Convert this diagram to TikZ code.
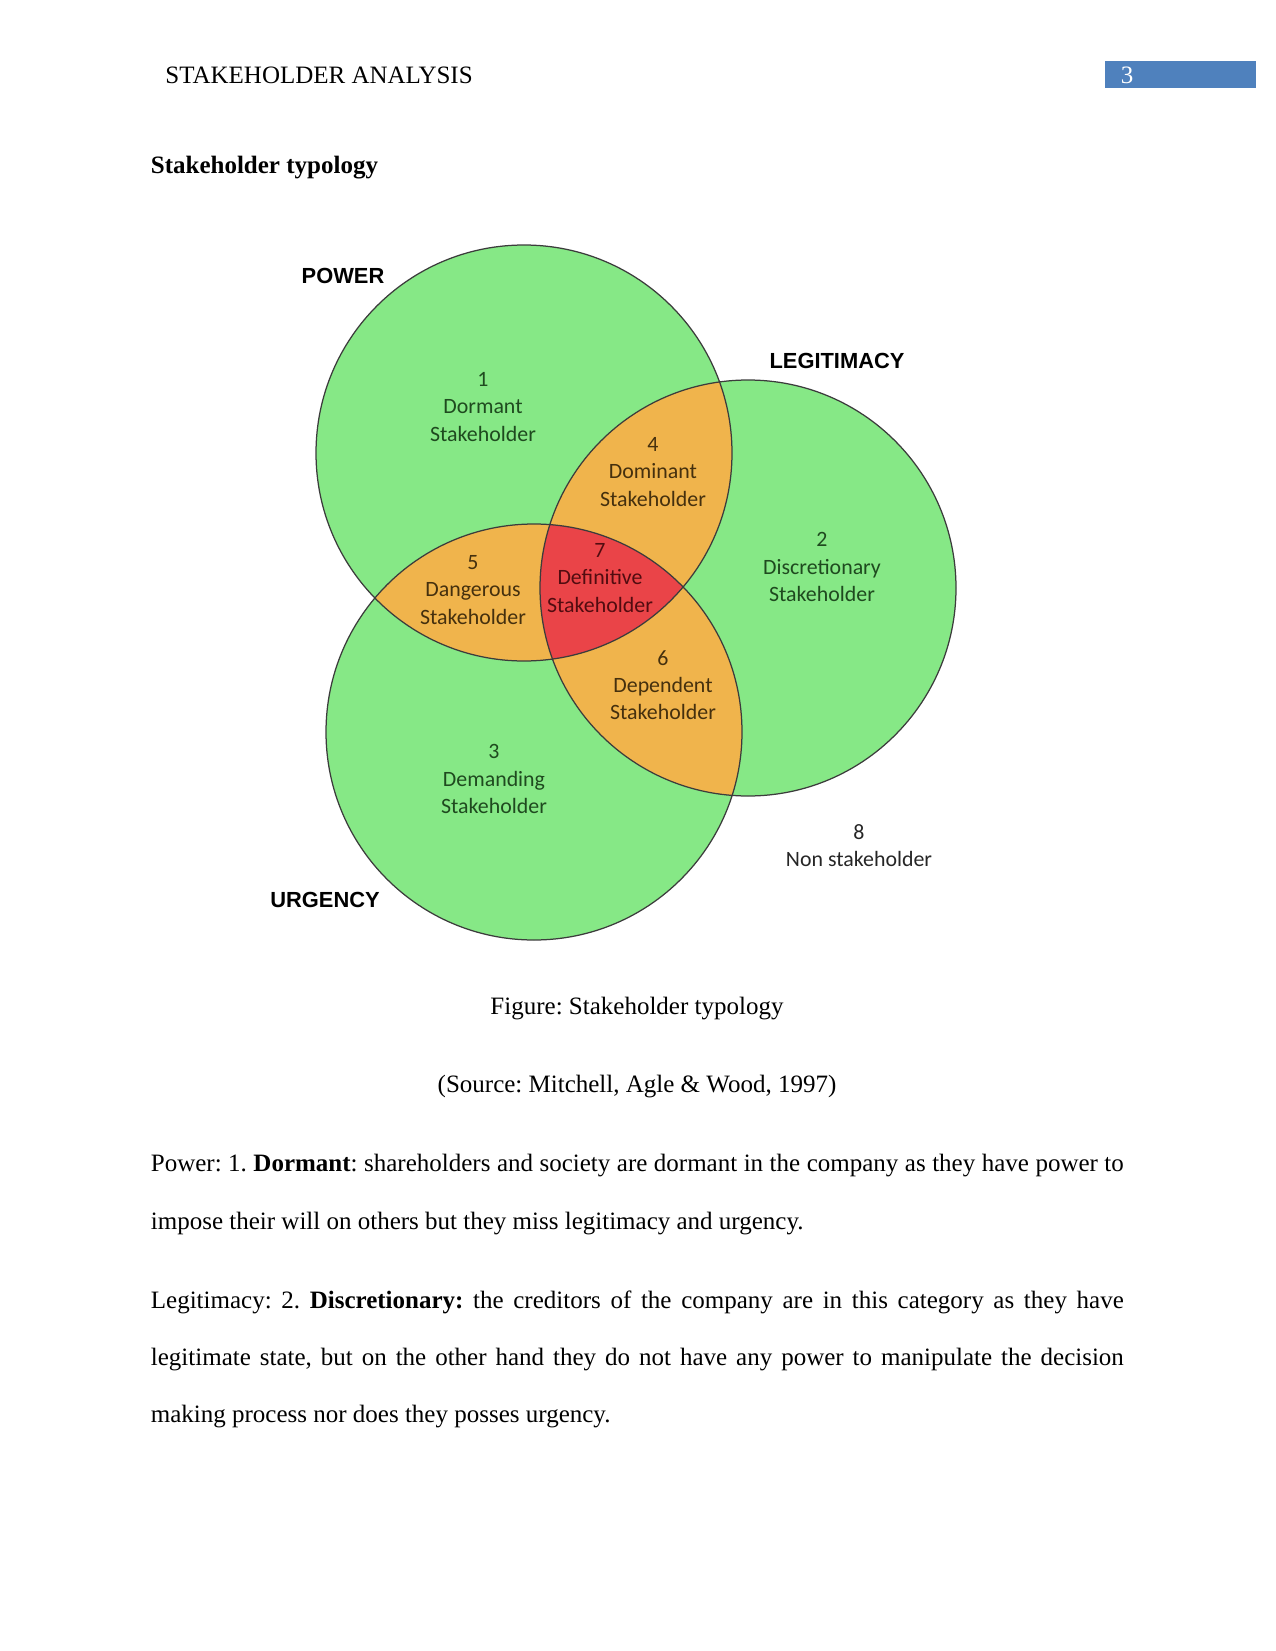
\documentclass[tikz,border=0pt]{standalone}
\usepackage{fontspec}
\setmainfont{Liberation Serif}
\newfontfamily\calfont{Carlito}
\newfontfamily\arialfont{Liberation Sans}
\frenchspacing
\definecolor{vgreen}{HTML}{86E886}
\definecolor{vorange}{HTML}{F0B44C}
\definecolor{vred}{HTML}{EA4448}
\definecolor{hblue}{HTML}{4F81BD}
\definecolor{tgreen}{HTML}{1F4A1F}
\definecolor{torange}{HTML}{45300E}
\definecolor{tred}{HTML}{520C10}
\definecolor{vline}{HTML}{3C3C3C}
\begin{document}
\begin{tikzpicture}[x=0.48pt,y=-0.48pt,
  lbl/.style={font=\calfont\fontsize{10.5}{13}\selectfont, align=center, inner sep=0pt},
  setlbl/.style={font=\arialfont\bfseries\fontsize{10.5}{12}\selectfont, inner sep=0pt},
  body/.style={font=\fontsize{12}{14}\selectfont, inner sep=0pt, anchor=west},
  ring/.style={draw=vline, line width=0.6pt}]
\useasboundingbox (0,0) rectangle (1275,1651);
% header
\node[body] (hdr) at (165,75) {STAKEHOLDER ANALYSIS};
\node[fill=hblue, anchor=north west, minimum width=72.5pt, minimum height=13pt, inner sep=0pt] (pgbox) at (1105,61) {};
\node[body, anchor=center, text=white] (pgnum) at (1127,75) {3};
\node[body] (title) at (150.5,168) {\textbf{Stakeholder typology}};
% venn
\coordinate (P) at (524,453);
\coordinate (L) at (748,588);
\coordinate (U) at (534,732);
\fill[vgreen] (P) circle[radius=208];
\fill[vgreen] (L) circle[radius=208];
\fill[vgreen] (U) circle[radius=208];
\begin{scope}
  \clip (P) circle[radius=208];
  \fill[vorange] (L) circle[radius=208];
  \fill[vorange] (U) circle[radius=208];
\end{scope}
\begin{scope}
  \clip (L) circle[radius=208];
  \fill[vorange] (U) circle[radius=208];
\end{scope}
\begin{scope}
  \clip (P) circle[radius=208];
  \clip (L) circle[radius=208];
  \fill[vred] (U) circle[radius=208];
\end{scope}
\draw[ring] (P) circle[radius=208];
\draw[ring] (L) circle[radius=208];
\draw[ring] (U) circle[radius=208];
% set labels
\node[setlbl] (power) at (343,276) {POWER};
\node[setlbl] (legit) at (837,361) {LEGITIMACY};
\node[setlbl] (urg) at (325,900) {URGENCY};
% region labels
\node[lbl, text=tgreen] (r1) at (483,407) {1\\Dormant\\Stakeholder};
\node[lbl, text=tgreen] (r2) at (822,567) {2\\Discretionary\\Stakeholder};
\node[lbl, text=tgreen] (r3) at (494,779) {3\\Demanding\\Stakeholder};
\node[lbl, text=torange] (r4) at (653,472) {4\\Dominant\\Stakeholder};
\node[lbl, text=torange] (r5) at (473,590) {5\\Dangerous\\Stakeholder};
\node[lbl, text=torange] (r6) at (663,685) {6\\Dependent\\Stakeholder};
\node[lbl, text=tred] (r7) at (600,578) {7\\Definitive\\Stakeholder};
\node[lbl, text=black!85] (r8) at (859,846) {8\\Non stakeholder};
% captions
\node[body, anchor=center] (cap) at (637,1009) {Figure: Stakeholder typology};
\node[body, anchor=center] (src) at (637,1087) {(Source: Mitchell, Agle \& Wood, 1997)};
% paragraphs
\node[body] (p1) at (150.5,1166) {\makebox[467pt][s]{Power: 1. \textbf{Dormant}: shareholders and society are dormant in the company as they have power to}};
\node[body] (p2) at (150.5,1224) {impose their will on others but they miss legitimacy and urgency.};
\node[body] (p3) at (150.5,1302) {\makebox[467pt][s]{Legitimacy: 2. \textbf{Discretionary:} the creditors of the company are in this category as they have}};
\node[body] (p4) at (150.5,1360) {\makebox[467pt][s]{legitimate state, but on the other hand they do not have any power to manipulate the decision}};
\node[body] (p5) at (150.5,1417) {making process nor does they posses urgency.};
\end{tikzpicture}
\end{document}
